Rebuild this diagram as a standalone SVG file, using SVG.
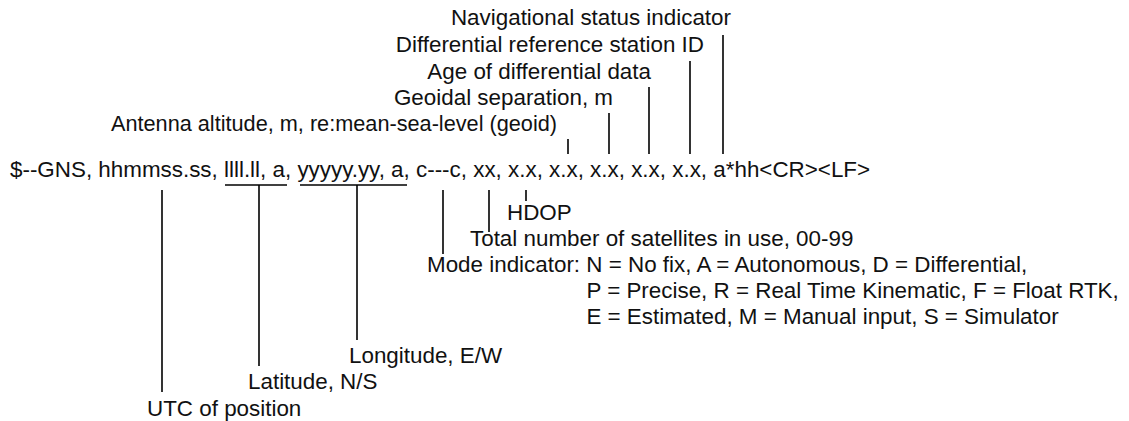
<svg xmlns="http://www.w3.org/2000/svg" width="1129" height="421" viewBox="0 0 1129 421">
  <style>
    text { font-family: "Liberation Sans", Arial, sans-serif; font-size: 22.4px; fill: #111; }
    .end { text-anchor: end; }
    .ln { stroke: #000; stroke-width: 1.6; fill: none; }
  </style>
  <rect width="1129" height="421" fill="#fff"/>

  <!-- sentence format -->
  <g id="sentence">
    <text x="10" y="177">$--GNS, hhmmss.ss, llll.ll, a, yyyyy.yy, a, c---c, xx, x.x, x.x, x.x, x.x, x.x, a*hh&lt;CR&gt;&lt;LF&gt;</text>
  </g>

  <!-- field descriptions above the sentence -->
  <g id="nav-status"><text class="end" x="731" y="25">Navigational status indicator</text></g>
  <g id="station-id"><text class="end" x="704" y="52">Differential reference station ID</text></g>
  <g id="diff-age"><text class="end" x="651" y="79">Age of differential data</text></g>
  <g id="geoidal-sep"><text class="end" x="613" y="105">Geoidal separation, m</text></g>
  <g id="altitude"><text class="end" x="557" y="131" style="font-size:21.7px">Antenna altitude, m, re:mean-sea-level (geoid)</text></g>

  <!-- field descriptions below the sentence -->
  <g id="hdop"><text x="507" y="220">HDOP</text></g>
  <g id="sats"><text x="470" y="246">Total number of satellites in use, 00-99</text></g>
  <g id="mode">
    <text x="427" y="272">Mode indicator: N = No fix, A = Autonomous, D = Differential,</text>
    <text x="586.4" y="298">P = Precise, R = Real Time Kinematic, F = Float RTK,</text>
    <text x="586.4" y="324">E = Estimated, M = Manual input, S = Simulator</text>
  </g>
  <g id="longitude"><text x="349" y="363">Longitude, E/W</text></g>
  <g id="latitude"><text x="248" y="389">Latitude, N/S</text></g>
  <g id="utc"><text x="147" y="416">UTC of position</text></g>

  <!-- leader lines -->
  <g id="connectors" class="ln">
    <!-- upper fields -->
    <line x1="723" y1="35" x2="723" y2="154"/>
    <line x1="690" y1="61" x2="690" y2="154"/>
    <line x1="649" y1="87" x2="649" y2="154"/>
    <line x1="609" y1="113" x2="609" y2="154"/>
    <line x1="568" y1="139" x2="568" y2="154"/>
    <!-- underlines for lat/lon pairs -->
    <line x1="225" y1="185" x2="287" y2="185"/>
    <line x1="300" y1="185" x2="407" y2="185"/>
    <!-- lower fields -->
    <line x1="162" y1="190" x2="162" y2="392"/>
    <line x1="259" y1="185" x2="259" y2="366"/>
    <line x1="357" y1="185" x2="357" y2="340"/>
    <line x1="443" y1="190" x2="443" y2="254"/>
    <line x1="489" y1="190" x2="489" y2="232"/>
    <line x1="526" y1="190" x2="526" y2="201"/>
  </g>
</svg>
